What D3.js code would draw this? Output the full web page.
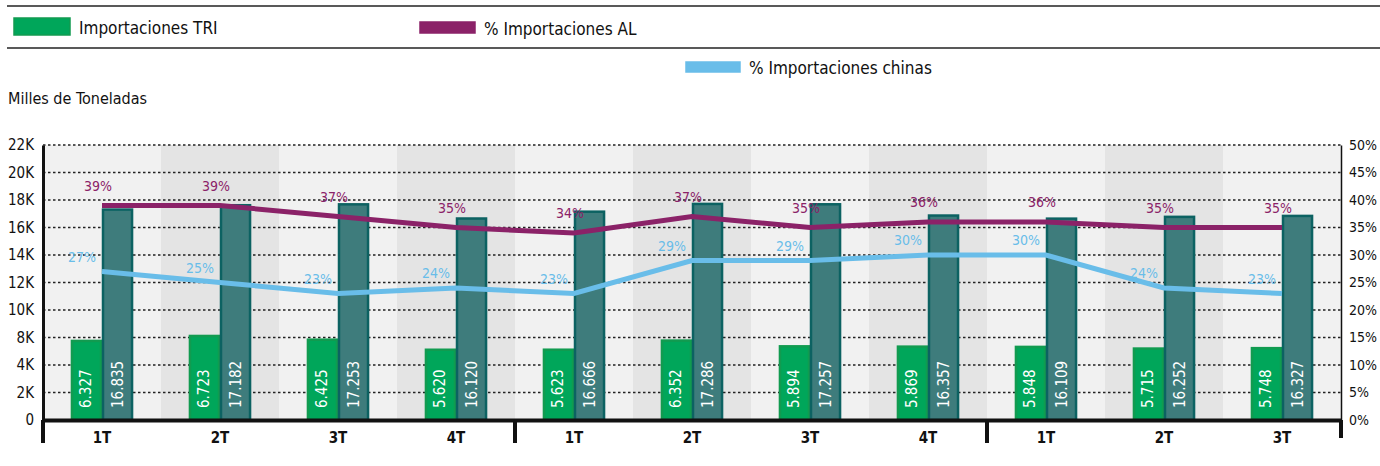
<!DOCTYPE html>
<html>
<head>
<meta charset="utf-8">
<script src="https://cdn.jsdelivr.net/npm/d3@7"></script>
<style>
  body { margin: 0; background: #fff; }
  svg text { font-family: "DejaVu Sans Condensed", "Liberation Sans Narrow", sans-serif; }
</style>
</head>
<body>
<svg width="1380" height="466"></svg>
<script>
// quarters (three years, last one incomplete)
const categories = ["1T", "2T", "3T", "4T", "1T", "2T", "3T", "4T", "1T", "2T", "3T"];
const importTRI = [6327, 6723, 6425, 5620, 5623, 6352, 5894, 5869, 5848, 5715, 5748];
const importTotal = [16835, 17182, 17253, 16120, 16666, 17286, 17257, 16357, 16109, 16252, 16327];
const pctAL = [39, 39, 37, 35, 34, 37, 35, 36, 36, 35, 35];
const pctChina = [27, 25, 23, 24, 23, 29, 29, 30, 30, 24, 23];
const leftTickLabels = ["0", "2K", "4K", "8K", "10K", "12K", "14K", "16K", "18K", "20K", "22K"];
const rightTickLabels = ["0%", "5%", "10%", "15%", "20%", "25%", "30%", "35%", "40%", "45%", "50%"];

const svg = d3.select("svg");
const plotLeft = 43, plotRight = 1341, plotTop = 145, plotBottom = 420;

const x0 = d3.scaleBand().domain(d3.range(categories.length)).range([plotLeft, plotRight]);
const x1 = d3.scaleBand().domain(["tri", "total"]).range([0, x0.bandwidth()]).paddingOuter(0.9);
const y = d3.scaleLinear().domain([0, 22000]).range([plotBottom, plotTop]);
const yP = d3.scaleLinear().domain([0, 50]).range([plotBottom, plotTop]);

const cTRI = "#00a65a", cTotal = "#3e7c7c", cAL = "#8b2268", cChina = "#69bde9";

// header / legend
svg.append("line").attr("x1", 7).attr("x2", 1380).attr("y1", 6).attr("y2", 6)
  .attr("stroke", "#222").attr("stroke-width", 1.5);
svg.append("line").attr("x1", 7).attr("x2", 1380).attr("y1", 48).attr("y2", 48)
  .attr("stroke", "#222").attr("stroke-width", 1.5);

const legend = [
  {label: "Importaciones TRI", color: cTRI, stroke: "#129a50", x: 14, y: 18, h: 17, w: 56},
  {label: "% Importaciones AL", color: cAL, stroke: cAL, x: 420, y: 22, h: 11, w: 55},
  {label: "% Importaciones chinas", color: cChina, stroke: cChina, x: 686, y: 62, h: 10, w: 54}
];
legend.forEach(d => {
  svg.append("rect").attr("x", d.x).attr("y", d.y).attr("width", d.w).attr("height", d.h)
    .attr("fill", d.color).attr("stroke", d.stroke).attr("stroke-width", 1.5);
  svg.append("text").attr("x", d.x + d.w + 9).attr("y", d.y + d.h / 2 + 7)
    .attr("font-size", 17).attr("fill", "#111").text(d.label);
});

svg.append("text").attr("x", 8).attr("y", 104).attr("font-size", 16).attr("fill", "#111")
  .text("Milles de Toneladas");

// alternating bands
svg.append("g").selectAll("rect")
  .data(categories)
  .join("rect")
    .attr("x", (d, i) => x0(i))
    .attr("y", plotTop)
    .attr("width", x0.bandwidth())
    .attr("height", plotBottom - plotTop)
    .attr("fill", (d, i) => i % 2 ? "#e4e4e4" : "#f1f1f1");

// dotted grid
const gridTicks = d3.range(1, 11).map(i => i * 2200);
svg.append("g").selectAll("line")
  .data(gridTicks)
  .join("line")
    .attr("x1", plotLeft).attr("x2", plotRight)
    .attr("y1", d => y(d)).attr("y2", d => y(d))
    .attr("stroke", "#222").attr("stroke-width", 1.5).attr("stroke-dasharray", "2.5,2.5");

// bars
const groups = svg.append("g").selectAll("g")
  .data(categories)
  .join("g")
    .attr("transform", (d, i) => `translate(${x0(i)},0)`);

const barData = i => [
  {key: "tri", v: importTRI[i], fill: cTRI, stroke: "#119b50"},
  {key: "total", v: importTotal[i], fill: cTotal, stroke: "#0c6262"}
];

groups.selectAll("rect")
  .data((d, i) => barData(i))
  .join("rect")
    .attr("x", d => x1(d.key) + 1)
    .attr("y", d => y(d.v))
    .attr("width", x1.bandwidth() - 2)
    .attr("height", d => y(0) - y(d.v))
    .attr("fill", d => d.fill)
    .attr("stroke", d => d.stroke)
    .attr("stroke-width", 2.5);

groups.selectAll("text")
  .data((d, i) => barData(i))
  .join("text")
    .attr("transform", d => `translate(${x1(d.key) + x1.bandwidth() / 2 + 5},${plotBottom - 12}) rotate(-90)`)
    .attr("font-size", 15)
    .attr("fill", "#fff")
    .text(d => d3.format(".3f")(d.v / 1000));

// lines
const px = i => x0(i) + x0.bandwidth() / 2;
const line = d3.line().x((d, i) => px(i)).y(d => yP(d));

svg.append("path").datum(pctAL)
  .attr("d", line).attr("fill", "none").attr("stroke", cAL).attr("stroke-width", 5);
svg.append("path").datum(pctChina)
  .attr("d", line).attr("fill", "none").attr("stroke", cChina).attr("stroke-width", 5);

svg.append("g").selectAll("text")
  .data(pctAL)
  .join("text")
    .attr("x", (d, i) => px(i) + 10)
    .attr("y", d => yP(d) - 15)
    .attr("text-anchor", "end")
    .attr("font-size", 14)
    .attr("fill", cAL)
    .text(d => d + "%");

svg.append("g").selectAll("text")
  .data(pctChina)
  .join("text")
    .attr("x", (d, i) => px(i) - 6)
    .attr("y", d => yP(d) - 10)
    .attr("text-anchor", "end")
    .attr("font-size", 14)
    .attr("fill", cChina)
    .text(d => d + "%");

// left axis
const yAxis = svg.append("g")
  .attr("transform", `translate(${plotLeft},0)`)
  .call(d3.axisLeft(y).tickValues(d3.range(0, 11).map(i => i * 2200))
    .tickFormat((d, i) => leftTickLabels[i]).tickSize(0).tickPadding(9));
yAxis.select(".domain").attr("stroke", "#111").attr("stroke-width", 3);
yAxis.selectAll("text").attr("font-size", 15).attr("fill", "#111")
  .attr("font-family", "'DejaVu Sans Condensed', sans-serif");

// right axis
const yAxisR = svg.append("g")
  .attr("transform", `translate(${plotRight},0)`)
  .call(d3.axisRight(yP).tickValues(d3.range(0, 51, 5))
    .tickFormat((d, i) => rightTickLabels[i]).tickSize(0).tickPadding(8));
yAxisR.select(".domain").attr("stroke", "#111").attr("stroke-width", 1.5);
yAxisR.selectAll("text").attr("font-size", 14).attr("fill", "#111")
  .attr("font-family", "'DejaVu Sans Condensed', sans-serif");

// bottom axis
const xAxis = svg.append("g")
  .attr("transform", `translate(0,${plotBottom})`)
  .call(d3.axisBottom(x0).tickFormat(i => categories[i]).tickSize(0).tickPadding(12));
xAxis.select(".domain").attr("stroke", "#111").attr("stroke-width", 4);
xAxis.selectAll("text").attr("font-size", 15).attr("font-weight", "bold").attr("fill", "#111")
  .attr("font-family", "'DejaVu Sans Condensed', sans-serif");

// year separators
svg.append("g").selectAll("line")
  .data([0, 4, 8, 11])
  .join("line")
    .attr("x1", d => d < categories.length ? x0(d) : plotRight)
    .attr("x2", d => d < categories.length ? x0(d) : plotRight)
    .attr("y1", plotBottom).attr("y2", d => d === 11 ? plotBottom + 18 : plotBottom + 23)
    .attr("stroke", "#111").attr("stroke-width", 4);
</script>
</body>
</html>
